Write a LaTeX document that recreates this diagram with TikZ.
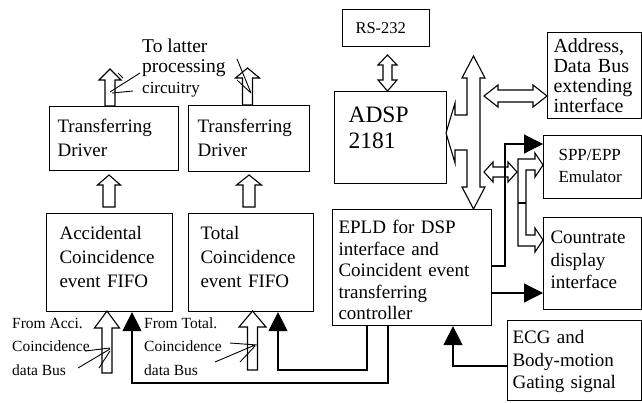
\documentclass[tikz,border=0pt]{standalone}
\usepackage{fontspec}
\setmainfont{Liberation Serif}
\usetikzlibrary{arrows.meta}
\newcommand{\fsz}[2]{\fontsize{#1}{#2}\selectfont}
% hollow bus arrow pointing up: x, bottom y, tip y, half shaft, half head, head length
\newcommand{\upbus}[6]{\draw[bus] (#1-#4,#2) -- (#1-#4,#3+#6) -- (#1-#5,#3+#6) -- (#1,#3)
  -- (#1+#5,#3+#6) -- (#1+#4,#3+#6) -- (#1+#4,#2) -- cycle;}
% hollow double bus arrow, horizontal: left x, right x, y, half shaft, half head, head length
\newcommand{\hbus}[6]{\draw[bus] (#1,#3) -- (#1+#6,#3-#5) -- (#1+#6,#3-#4) -- (#2-#6,#3-#4)
  -- (#2-#6,#3-#5) -- (#2,#3) -- (#2-#6,#3+#5) -- (#2-#6,#3+#4) -- (#1+#6,#3+#4)
  -- (#1+#6,#3+#5) -- cycle;}
\tikzset{
  box/.style={draw, line width=1.1pt, anchor=north west, align=left, inner ysep=0pt},
  txt/.style={inner sep=0pt, align=left},
  bus/.style={draw, fill=white, line width=1.1pt},
  wire/.style={line width=1.1pt},
  sig/.style={wire, -{Triangle[length=19pt, width=19pt]}},
  lead/.style={line width=0.9pt},
}
\begin{document}
\begin{tikzpicture}[x=1pt, y=-1pt]
  \fill[white] (0,0) rectangle (642,402);
  \useasboundingbox (0,0) rectangle (642,402);

  % left column: FIFOs and drivers
  \node[box, text width=113pt, inner xsep=8pt, text height=26pt, text depth=38pt, font=\fsz{19}{24}] (trA) at (49,106) {Transferring\\Driver};
  \node[box, text width=103pt, inner xsep=9pt, text height=27pt, text depth=39pt, font=\fsz{19}{24}] (trT) at (188,105) {Transferring\\Driver};
  \node[box, text width=100pt, inner xsep=13pt, text height=26pt, text depth=72pt, font=\fsz{19}{24}] (accA) at (46,213) {Accidental\\Coincidence\\event FIFO};
  \node[box, text width=101pt, inner xsep=12pt, text height=26pt, text depth=72pt, font=\fsz{19}{24}] (totC) at (188,213) {Total\\Coincidence\\event FIFO};

  % DSP side
  \node[box, text width=61pt, inner xsep=13pt, text height=24pt, text depth=13pt, font=\fsz{16.5}{20}] (rs) at (342,9) {RS-232};
  \node[box, text width=84pt, inner xsep=14pt, text height=31pt, text depth=61pt, font=\fsz{23.5}{26}] (adsp) at (334,91) {ADSP\\2181};
  \node[box, text width=147pt, inner xsep=6pt, text height=24pt, text depth=92pt, font=\fsz{19}{21.5}] (epld) at (332,209) {EPLD for DSP\\interface and\\Coincident event\\transferring\\controller};
  \node[box, text width=82pt, inner xsep=6pt, text height=20pt, text depth=66pt, font=\fsz{20}{20}] (addr) at (547,32) {Address,\\Data Bus\\extending\\interface};
  \node[box, text width=68pt, inner xsep=15pt, text height=25pt, text depth=38pt, font=\fsz{17}{22}] (spp) at (543,135) {SPP/EPP\\Emulator};
  \node[box, text width=84pt, inner xsep=7pt, text height=26pt, text depth=66pt, font=\fsz{19}{22.5}] (cnt) at (543,217) {Countrate\\display\\interface};
  \node[box, text width=124pt, inner xsep=5pt, text height=23pt, text depth=57pt, font=\fsz{19}{22.5}] (ecg) at (507,320) {ECG and\\Body-motion\\Gating signal};

  % free labels (base = last line)
  \node[txt, anchor=base west, font=\fsz{19.5}{20.5}] (latter) at (142,93) {To latter\\processing\\{\fsz{17}{21}circuitry}};
  \node[txt, anchor=base west, font=\fsz{15.5}{23.5}] (fromA) at (12,375) {From Acci.\\Coincidence\\data Bus};
  \node[txt, anchor=base west, font=\fsz{15.5}{23.5}] (fromT) at (144,375) {From Total.\\Coincidence\\data Bus};

  % hollow buses
  \upbus{110}{106}{69}{5}{11}{11}
  \upbus{247.5}{105}{68}{5}{12}{10}
  \upbus{109}{207}{175}{6}{11.5}{10}
  \upbus{249}{207}{175}{6}{12.5}{10}
  \upbus{107}{373}{311}{5}{12.5}{17}
  \upbus{252.5}{370}{311}{5}{13.5}{16}
  \draw[bus] (387.5,55) -- (397,65) -- (392,65) -- (392,80) -- (397,80) -- (387.5,91)
    -- (378,80) -- (383,80) -- (383,65) -- (378,65) -- cycle;
  \draw[bus] (473.5,56) -- (485,78) -- (480,78) -- (480,187) -- (485,187) -- (473.5,209)
    -- (462,187) -- (467,187) -- (467,150) -- (455,150) -- (455,163) -- (446,133)
    -- (455,103) -- (455,115) -- (467,115) -- (467,78) -- (462,78) -- cycle;
  \hbus{484}{547}{96}{6}{11}{14}
  \hbus{484}{517}{172}{5}{10}{9}
  \draw[bus] (518,246) -- (518,159) -- (535,159) -- (535,153) -- (543,165) -- (535,177)
    -- (535,170) -- (526,170) -- (526,235) -- (535,235) -- (535,228) -- (543,240)
    -- (535,252) -- (535,246) -- cycle;
  \draw[wire] (518,203) -- (526,203);

  % control lines
  \draw[sig] (epld.east |- 0,266) -| (505,144) -- (spp.west |- 0,144);
  \draw[sig] (epld.east |- 0,293) -- (cnt.west |- 0,293);
  \draw[sig] (ecg.west |- 0,366) -| (epld.south -| 453,0);
  \draw[sig] (epld.south -| 367,0) |- (278,370) -- (totC.south -| 278,0);
  \draw[sig] (epld.south -| 388,0) |- (132,383) -- (accA.south -| 132,0);

  % leaders
  \draw[lead] (140,73) -- (110,92) (133,91) -- (112,93) (118,73) -- (123,78);
  \draw[lead] (237,59) -- (251,93) (237,80) -- (251,93);
  \draw[lead] (85,351) -- (110,348) (78,368) -- (110,349) (99,368) -- (110,351);
  \draw[lead] (230,343) -- (257,345) (215,362) -- (255,345) (240,362) -- (255,346);
\end{tikzpicture}
\end{document}
